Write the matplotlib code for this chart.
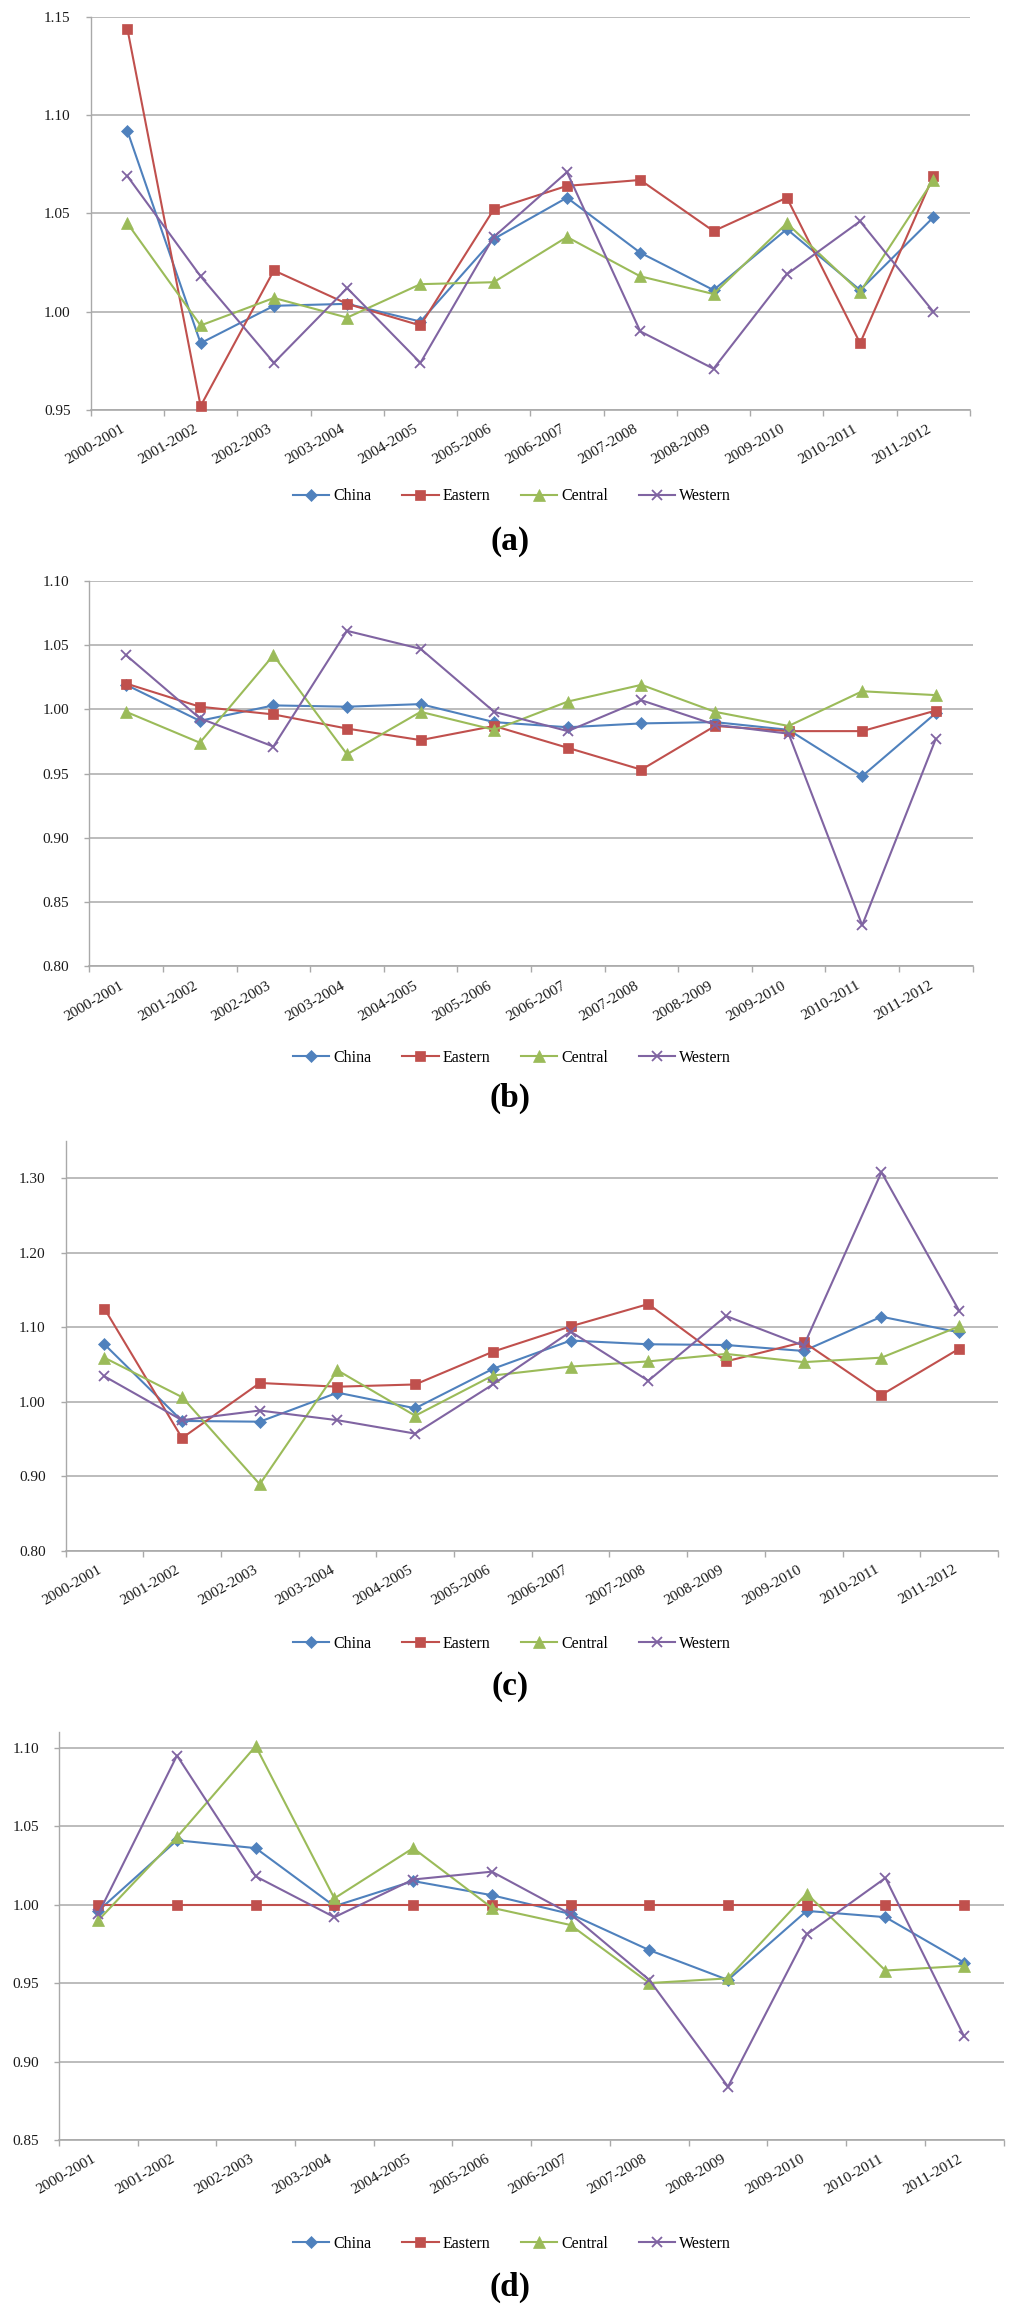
import matplotlib
matplotlib.use("Agg")
import matplotlib.pyplot as plt
from matplotlib.ticker import FixedLocator, FormatStrFormatter

plt.rcParams['font.family'] = ['Liberation Serif', 'DejaVu Serif']

periods = ["2000-2001", "2001-2002", "2002-2003", "2003-2004", "2004-2005", "2005-2006",
           "2006-2007", "2007-2008", "2008-2009", "2009-2010", "2010-2011", "2011-2012"]
series_names = ["China", "Eastern", "Central", "Western"]

# Panel (a)
a_china   = [1.092, 0.984, 1.003, 1.004, 0.995, 1.037, 1.058, 1.030, 1.011, 1.042, 1.011, 1.048]
a_eastern = [1.144, 0.952, 1.021, 1.004, 0.993, 1.052, 1.064, 1.067, 1.041, 1.058, 0.984, 1.069]
a_central = [1.045, 0.993, 1.007, 0.997, 1.014, 1.015, 1.038, 1.018, 1.009, 1.045, 1.010, 1.067]
a_western = [1.069, 1.018, 0.974, 1.012, 0.974, 1.038, 1.071, 0.990, 0.971, 1.019, 1.046, 1.000]

# Panel (b)
b_china   = [1.019, 0.991, 1.003, 1.002, 1.004, 0.990, 0.986, 0.989, 0.990, 0.984, 0.948, 0.997]
b_eastern = [1.020, 1.002, 0.996, 0.985, 0.976, 0.987, 0.970, 0.953, 0.987, 0.983, 0.983, 0.999]
b_central = [0.998, 0.974, 1.042, 0.965, 0.998, 0.984, 1.006, 1.019, 0.998, 0.987, 1.014, 1.011]
b_western = [1.042, 0.993, 0.971, 1.061, 1.047, 0.998, 0.983, 1.007, 0.988, 0.981, 0.832, 0.977]

# Panel (c)
c_china   = [1.077, 0.974, 0.973, 1.012, 0.991, 1.044, 1.082, 1.077, 1.076, 1.068, 1.114, 1.093]
c_eastern = [1.125, 0.951, 1.025, 1.020, 1.023, 1.067, 1.101, 1.131, 1.054, 1.080, 1.009, 1.071]
c_central = [1.059, 1.006, 0.889, 1.042, 0.981, 1.035, 1.047, 1.054, 1.064, 1.053, 1.059, 1.101]
c_western = [1.034, 0.975, 0.988, 0.975, 0.957, 1.023, 1.094, 1.028, 1.115, 1.075, 1.308, 1.122]

# Panel (d)
d_china   = [0.996, 1.041, 1.036, 0.999, 1.015, 1.006, 0.994, 0.971, 0.952, 0.996, 0.992, 0.963]
d_eastern = [1.000, 1.000, 1.000, 1.000, 1.000, 1.000, 1.000, 1.000, 1.000, 1.000, 1.000, 1.000]
d_central = [0.990, 1.043, 1.101, 1.004, 1.036, 0.998, 0.987, 0.950, 0.953, 1.007, 0.958, 0.961]
d_western = [0.994, 1.095, 1.018, 0.992, 1.016, 1.021, 0.994, 0.952, 0.884, 0.981, 1.017, 0.916]

panels = [
    ("(a)", [a_china, a_eastern, a_central, a_western], (0.95, 1.15), [0.95, 1.00, 1.05, 1.10, 1.15]),
    ("(b)", [b_china, b_eastern, b_central, b_western], (0.80, 1.10), [0.80, 0.85, 0.90, 0.95, 1.00, 1.05, 1.10]),
    ("(c)", [c_china, c_eastern, c_central, c_western], (0.80, 1.35), [0.80, 0.90, 1.00, 1.10, 1.20, 1.30]),
    ("(d)", [d_china, d_eastern, d_central, d_western], (0.85, 1.11), [0.85, 0.90, 0.95, 1.00, 1.05, 1.10]),
]

colors = ["#4F81BD", "#C0504D", "#9BBB59", "#8064A2"]
markers = ["D", "s", "^", "x"]
msizes = [6, 7.2, 8, 7]

W, H = 1024, 2314
fig = plt.figure(figsize=(W / 100, H / 100), dpi=100)

# pixel boxes: left, right, top, bottom
boxes = [(90.7, 970.0, 16.8, 410.0),
         (89.4, 972.6, 580.7, 966.4),
         (65.5, 998.0, 1141.0, 1550.5),
         (58.9, 1003.5, 1732.0, 2140.0)]
legend_y = [496.4, 1057.5, 1643.6, 2243.5]
label_y = [541.0, 1098.6, 1686.0, 2287.0]

grid_c = "#a9a9a9"
x = list(range(len(periods)))

for (lab, data, ylim, yticks), (l, r, t, b), ly, lby in zip(panels, boxes, legend_y, label_y):
    ax = fig.add_axes([l / W, 1 - b / H, (r - l) / W, (b - t) / H])
    ax.set_xlim(-0.5, len(periods) - 0.5)
    ax.set_ylim(*ylim)
    ax.yaxis.set_major_locator(FixedLocator(yticks))
    ax.yaxis.set_major_formatter(FormatStrFormatter("%.2f"))
    ax.grid(axis="y", color=grid_c, lw=1.1, zorder=0)
    ax.set_axisbelow(True)
    for s in ["top", "right"]:
        ax.spines[s].set_visible(False)
    ax.spines["left"].set_color(grid_c)
    ax.spines["left"].set_linewidth(1.0)
    ax.spines["bottom"].set_color(grid_c)
    ax.spines["bottom"].set_linewidth(1.2)

    handles = []
    for name, vals, c, m, ms in zip(series_names, data, colors, markers, msizes):
        h, = ax.plot(x, vals, color=c, lw=1.5, marker=m, markersize=ms,
                     markeredgewidth=1.3 if m == "x" else 0.5,
                     markeredgecolor=c, markerfacecolor=c, label=name, zorder=3,
                     clip_on=False)
        handles.append(h)

    ax.set_xticks(x)
    ax.set_xticklabels(periods, rotation=30, ha="right", va="top", fontsize=11)
    ax.xaxis.set_minor_locator(FixedLocator([i - 0.5 for i in range(len(periods) + 1)]))
    ax.tick_params(axis="x", which="major", length=0, pad=9)
    ax.tick_params(axis="x", which="minor", length=4.5, width=1.0, color=grid_c, direction="out")
    ax.tick_params(axis="y", which="major", length=3.4, width=1.0, color=grid_c,
                   direction="out", labelsize=11, pad=11)
    for tl in ax.get_xticklabels() + ax.get_yticklabels():
        tl.set_color("#1a1a1a")

    fig.legend(handles=handles, labels=series_names, loc="center",
               bbox_to_anchor=(512 / W, 1 - ly / H), ncol=4, frameon=False,
               fontsize=11.5, handlelength=2.3, handletextpad=0.25, columnspacing=1.9,
               borderaxespad=0, borderpad=0)
    fig.text(510 / W, 1 - lby / H, lab, ha="center", va="center",
             fontsize=24, fontweight="bold")

fig.savefig("out.png", dpi=100, facecolor="white")
